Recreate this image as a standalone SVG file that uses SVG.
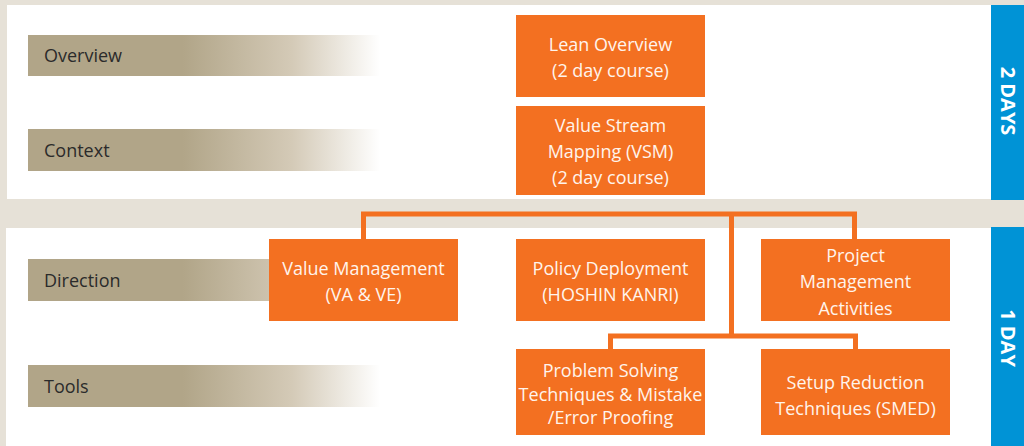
<svg xmlns="http://www.w3.org/2000/svg" width="1024" height="446" viewBox="0 0 1024 446">
<defs>
<linearGradient id="fade" x1="28" y1="0" x2="380" y2="0" gradientUnits="userSpaceOnUse">
<stop offset="0" stop-color="#B1A588"/>
<stop offset="0.44" stop-color="#B1A588"/>
<stop offset="0.75" stop-color="#D4CAB7"/>
<stop offset="1" stop-color="#FFFFFF"/>
</linearGradient>
<style>
.lbl{font-family:"Open Sans","Noto Sans",sans-serif;font-size:18px;fill:#2B2B2B}
.box{fill:#F37021}
.bt{font-family:"Open Sans","Noto Sans",sans-serif;font-size:18px;fill:#FFF4EC;text-anchor:middle}
.band{fill:#0093D6}
.bandt{font-family:"Open Sans","Noto Sans",sans-serif;font-size:20px;font-weight:bold;fill:#FFFFFF;text-anchor:middle}
.con{fill:none;stroke:#F37021;stroke-width:5}
</style>
</defs>
<rect x="0" y="0" width="1024" height="446" fill="#E6E1D7"/>
<rect x="7" y="5" width="984" height="194" fill="#FFFFFF"/>
<rect x="6" y="228" width="985" height="218" fill="#FFFFFF"/>
<g id="band-2days"><rect class="band" x="991" y="5" width="33" height="195"/><text class="bandt" transform="translate(1001,101) rotate(90)">2 DAYS</text></g>
<g id="band-1day"><rect class="band" x="991" y="227" width="33" height="219"/><text class="bandt" transform="translate(1001,338) rotate(90)">1 DAY</text></g>
<g id="row-overview"><rect x="28" y="35" width="352" height="41" fill="url(#fade)"/><text class="lbl" x="44" y="62">Overview</text></g>
<g id="row-context"><rect x="28" y="129" width="352" height="42" fill="url(#fade)"/><text class="lbl" x="44" y="157">Context</text></g>
<g id="row-direction"><rect x="28" y="259" width="352" height="42" fill="url(#fade)"/><text class="lbl" x="44" y="287">Direction</text></g>
<g id="row-tools"><rect x="28" y="365" width="352" height="42" fill="url(#fade)"/><text class="lbl" x="44" y="393">Tools</text></g>
<g id="connectors">
<polyline class="con" points="363.5,239 363.5,214 854.5,214 854.5,239"/>
<line class="con" x1="731.5" y1="214" x2="731.5" y2="336"/>
<polyline class="con" points="610.5,349 610.5,336 855.5,336 855.5,349"/>
</g>
<g id="lean-overview"><rect class="box" x="516" y="15" width="189" height="82"/><text class="bt" x="610.5" y="51">Lean Overview</text><text class="bt" x="610.5" y="77">(2 day course)</text></g>
<g id="vsm"><rect class="box" x="516" y="106" width="189" height="89"/><text class="bt" x="610.5" y="132">Value Stream</text><text class="bt" x="610.5" y="158">Mapping (VSM)</text><text class="bt" x="610.5" y="184">(2 day course)</text></g>
<g id="value-management"><rect class="box" x="269" y="239" width="189" height="82"/><text class="bt" x="363.5" y="275">Value Management</text><text class="bt" x="363.5" y="301">(VA &amp; VE)</text></g>
<g id="policy-deployment"><rect class="box" x="516" y="239" width="189" height="82"/><text class="bt" x="610.5" y="275">Policy Deployment</text><text class="bt" x="610.5" y="301">(HOSHIN KANRI)</text></g>
<g id="project-management"><rect class="box" x="761" y="239" width="189" height="82"/><text class="bt" x="855.5" y="262">Project</text><text class="bt" x="855.5" y="288">Management</text><text class="bt" x="855.5" y="315">Activities</text></g>
<g id="problem-solving"><rect class="box" x="516" y="349" width="189" height="86"/><text class="bt" x="610.5" y="377">Problem Solving</text><text class="bt" x="610.5" y="401">Techniques &amp; Mistake</text><text class="bt" x="610.5" y="424">/Error Proofing</text></g>
<g id="setup-reduction"><rect class="box" x="761" y="349" width="189" height="86"/><text class="bt" x="855.5" y="389">Setup Reduction</text><text class="bt" x="855.5" y="415">Techniques (SMED)</text></g>
</svg>
